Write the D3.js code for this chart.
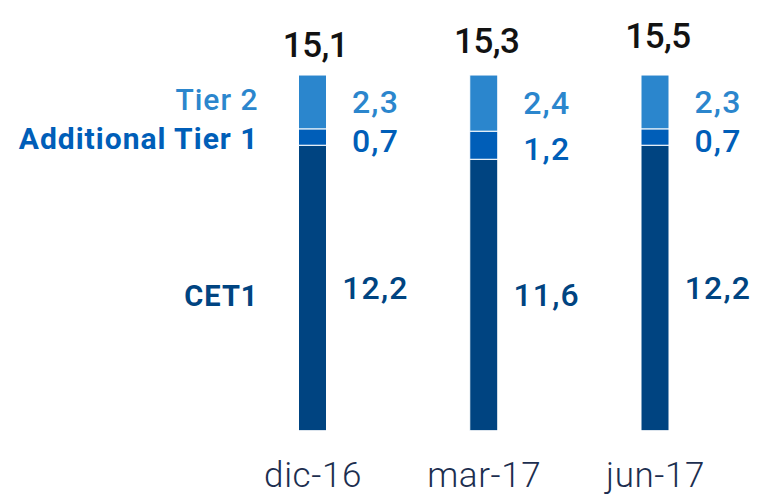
<!DOCTYPE html>
<html>
<head>
<meta charset="utf-8">
<script src="https://cdn.jsdelivr.net/npm/d3@7"></script>
<style>
  html, body { margin: 0; padding: 0; background: #fff; }
  svg { display: block; font-family: Roboto, "Open Sans", sans-serif; }
</style>
</head>
<body>
<svg id="chart" width="758" height="499"></svg>
<script>
// Capital ratio components per reporting period
const periods = ["dic-16", "mar-17", "jun-17"];
const cet1 = [12.2, 11.6, 12.2];
const additionalTier1 = [0.7, 1.2, 0.7];
const tier2 = [2.3, 2.4, 2.3];
const totals = [15.1, 15.3, 15.5];
const seriesNames = ["CET1", "Additional Tier 1", "Tier 2"];

const colors = {
  "CET1": "#004481",
  "Additional Tier 1": "#005EB8",
  "Tier 2": "#2B86CD"
};
const legendWeight = { "CET1": 700, "Additional Tier 1": 700, "Tier 2": 500 };
const fmt = v => d3.format(".1f")(v).replace(".", ",");

const rows = periods.map((p, i) => ({
  period: p,
  "CET1": cet1[i],
  "Additional Tier 1": additionalTier1[i],
  "Tier 2": tier2[i],
  total: totals[i]
}));

const stacked = d3.stack().keys(seriesNames)(rows);

const svg = d3.select("#chart");
const barWidth = 28;

const x = d3.scalePoint().domain(periods).range([312.5, 655]);
const y = d3.scaleLinear().domain([0, 16]).range([430.7, 56.3]);

// Stacked bars
const layers = svg.append("g").selectAll("g")
  .data(stacked)
  .join("g")
  .attr("fill", d => colors[d.key]);

layers.selectAll("rect")
  .data(d => d.map(s => ({ key: d.key, s })))
  .join("rect")
  .attr("x", d => x(d.s.data.period) - barWidth / 2)
  .attr("width", barWidth)
  .attr("y", d => y(d.s[1]))
  .attr("height", d => y(d.s[0]) - y(d.s[1]))
  .attr("stroke", "#fff")
  .attr("stroke-width", 1);

// Segment value labels to the right of each bar
layers.selectAll("text")
  .data(d => d.map(s => ({ key: d.key, s })))
  .join("text")
  .attr("x", d => x(d.s.data.period) + 63)
  .attr("y", d => (y(d.s[0]) + y(d.s[1])) / 2 + (d.key === "Additional Tier 1" ? 4 : 0))
  .attr("text-anchor", "middle")
  .attr("dominant-baseline", "central")
  .attr("font-size", 32)
  .attr("font-weight", 500)
  .attr("letter-spacing", 1.2)
  .attr("fill", d => colors[d.key])
  .text(d => fmt(d.s.data[d.key]));

// Totals above the bars
svg.append("g").selectAll("text")
  .data(rows)
  .join("text")
  .attr("x", d => x(d.period) + 3)
  .attr("y", d => y(d.total) - 20)
  .attr("text-anchor", "middle")
  .attr("font-size", 35)
  .attr("font-weight", 500)
  .attr("letter-spacing", -0.5)
  .attr("fill", "#121212")
  .text(d => fmt(d.total));

// Series names beside the first bar
const first = stacked.map(layer => ({ key: layer.key, s: layer[0] }));
svg.append("g").selectAll("text")
  .data(first)
  .join("text")
  .attr("x", x(periods[0]) - 54)
  .attr("y", d => (y(d.s[0]) + y(d.s[1])) / 2 + (d.key === "CET1" ? 8 : d.key === "Tier 2" ? -2 : 1))
  .attr("text-anchor", "end")
  .attr("dominant-baseline", "central")
  .attr("font-size", d => d.key === "CET1" ? 29 : 30)
  .attr("font-weight", d => legendWeight[d.key])
  .attr("letter-spacing", 1)
  .attr("fill", d => colors[d.key])
  .text(d => d.key);

// Period axis
const axis = svg.append("g")
  .attr("transform", `translate(0, 462)`)
  .call(d3.axisBottom(x).tickSize(0).tickPadding(0));
axis.select(".domain").remove();
axis.selectAll("text")
  .attr("dy", "0.71em")
  .attr("font-family", "Roboto, sans-serif")
  .attr("font-size", 35)
  .attr("font-weight", 300)
  .attr("letter-spacing", 0.6)
  .attr("fill", "#1C2E4F");
</script>
</body>
</html>
